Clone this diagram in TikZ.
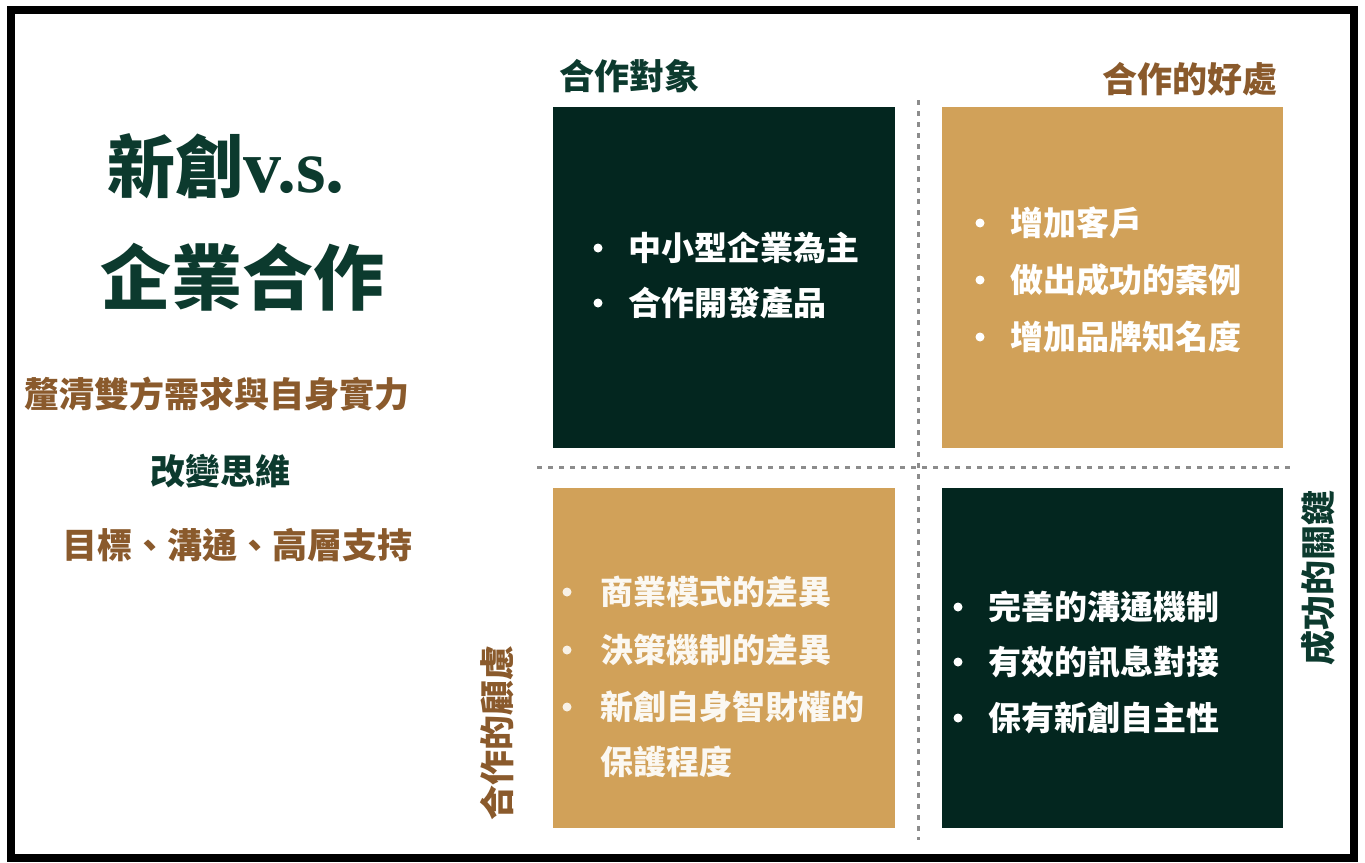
\documentclass[tikz,border=0pt]{standalone}
\usepackage{fontspec}
\setmainfont{Noto Sans CJK TC}
\newfontfamily\latinserif{Liberation Serif}
\definecolor{darkbox}{HTML}{03261F}
\definecolor{goldbox}{HTML}{D1A159}
\definecolor{titlegreen}{HTML}{0C3A2E}
\definecolor{brownt}{HTML}{8A5A2C}
\definecolor{dashgray}{HTML}{8C8C8C}
\tikzset{
  bigtitle/.style={text=titlegreen, font=\bfseries\fontsize{#1}{#1}\selectfont, inner sep=0pt},
  sidetext/.style={font=\bfseries\fontsize{35}{40}\selectfont, inner sep=0pt},
  itemtext/.style={text=white, anchor=west, font=\bfseries\fontsize{33}{38}\selectfont, inner sep=0pt},
  dotb/.style={circle, fill=white, minimum size=9pt, inner sep=0pt},
  sep/.style={draw=dashgray, line width=3pt, dash pattern=on 5pt off 6pt}
}
\begin{document}
\begin{tikzpicture}[x=1pt,y=-1pt]
\useasboundingbox (0,0) rectangle (1365,862);
\fill[white] (0,0) rectangle (1365,862);
% frame
\draw[line width=8pt, black] (11,10) rectangle (1354,858);
% quadrant boxes
\fill[darkbox] (553,107) rectangle (895,448);
\fill[goldbox] (942,107) rectangle (1283,448);
\fill[goldbox] (553,488) rectangle (895,828);
\fill[darkbox] (942,488) rectangle (1283,828);
% dashed separators
\coordinate (vtop) at (918,100);
\coordinate (vbot) at (918,840);
\coordinate (hl) at (537,467);
\coordinate (hr) at (1290,467);
\draw[sep] (vtop) -- (vbot);
\draw[sep] (hl) -- (hr);
% left titles
\node[bigtitle=68] (t1) at (226,166) {新創{\latinserif\bfseries\fontsize{76}{76}\selectfont v.s.}};
\node[bigtitle=71] (t2) at (242,277) {企業合作};
\node[sidetext, text=brownt] (l1) at (217,394) {釐清雙方需求與自身實力};
\node[sidetext, text=titlegreen] (l2) at (220,471) {改變思維};
\node[sidetext, text=brownt] (l3) at (237,545) {目標、溝通、高層支持};
% quadrant headings
\node[sidetext, text=titlegreen] (h1) at (629,76) {合作對象};
\node[sidetext, text=brownt] (h2) at (1190,79) {合作的好處};
\node[sidetext, text=brownt, rotate=90] (h3) at (497,733) {合作的顧慮};
\node[sidetext, text=titlegreen, rotate=90] (h4) at (1318,578) {成功的關鍵};
% top-left items
\node[dotb] (a1b) at (598,248) {};
\node[itemtext] (a1) at (628,248) {中小型企業為主};
\node[dotb] (a2b) at (598,303) {};
\node[itemtext] (a2) at (628,303) {合作開發產品};
% top-right items
\node[dotb] (b1b) at (980,223) {};
\node[itemtext] (b1) at (1010,223) {增加客戶};
\node[dotb] (b2b) at (980,280) {};
\node[itemtext] (b2) at (1010,280) {做出成功的案例};
\node[dotb] (b3b) at (980,337) {};
\node[itemtext] (b3) at (1010,337) {增加品牌知名度};
% bottom-left items
\node[dotb, fill=white!85!goldbox] (c1b) at (567,592) {};
\node[itemtext, text=white!92!goldbox] (c1) at (600,592) {商業模式的差異};
\node[dotb, fill=white!85!goldbox] (c2b) at (567,650) {};
\node[itemtext, text=white!92!goldbox] (c2) at (600,650) {決策機制的差異};
\node[dotb, fill=white!85!goldbox] (c3b) at (567,707) {};
\node[itemtext, text=white!92!goldbox] (c3) at (600,707) {新創自身智財權的};
\node[itemtext, text=white!92!goldbox] (c4) at (600,762) {保護程度};
% bottom-right items
\node[dotb] (d1b) at (958,607) {};
\node[itemtext] (d1) at (988,607) {完善的溝通機制};
\node[dotb] (d2b) at (958,662) {};
\node[itemtext] (d2) at (988,662) {有效的訊息對接};
\node[dotb] (d3b) at (958,718) {};
\node[itemtext] (d3) at (988,718) {保有新創自主性};
\end{tikzpicture}
\end{document}
